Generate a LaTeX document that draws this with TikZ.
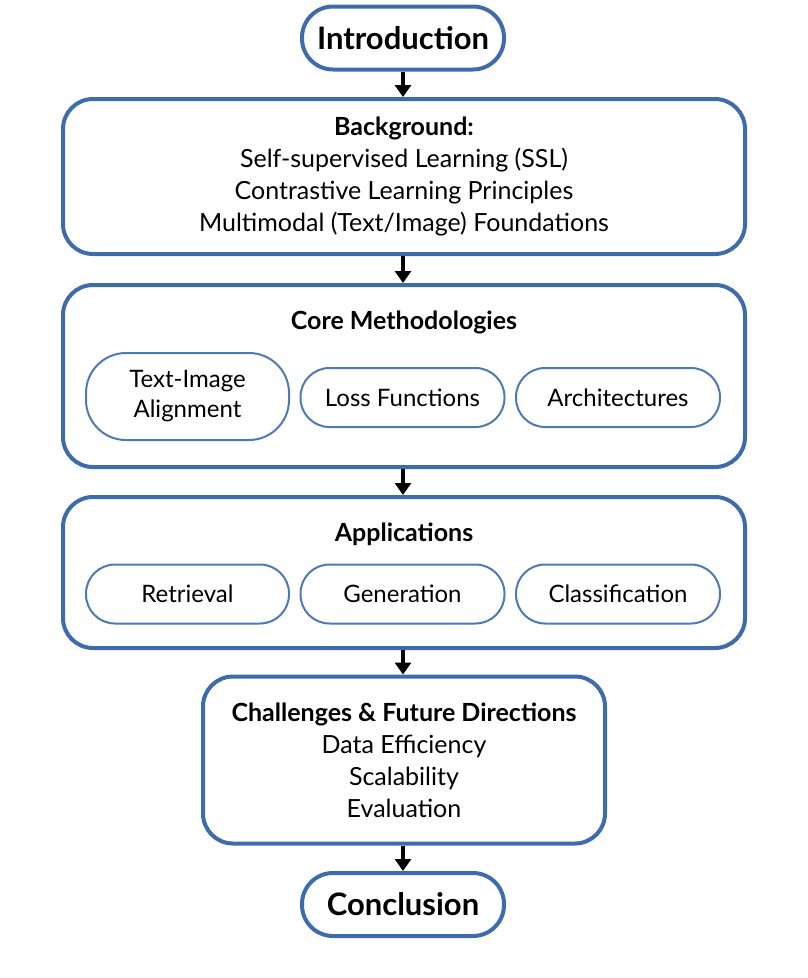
\documentclass[tikz,border=0pt]{standalone}
\usepackage{fontspec}
\setmainfont{Lato}
\usepackage{tikz}
\usetikzlibrary{arrows.meta,positioning}
\definecolor{ovblue}{RGB}{62,108,170}
\definecolor{ovlightblue}{RGB}{78,122,180}
\tikzset{
  pill/.style={draw=ovblue, line width=4pt, rounded corners=31pt, minimum width=202pt, minimum height=63pt, font=\fontsize{31}{32}\selectfont\bfseries},
  bigbox/.style={draw=ovblue, line width=4pt, rounded corners=30pt, minimum width=682pt, align=center, font=\fontsize{25}{32}\selectfont},
  subbox/.style={draw=ovlightblue, line width=2pt, rounded corners=29pt, minimum width=204pt, minimum height=59pt, align=center, font=\fontsize{24}{30}\selectfont},
  title/.style={font=\fontsize{25}{32}\selectfont\bfseries},
  arrow/.style={line width=3.2pt, -{Triangle[width=16pt,length=12pt]}, color=black}
}
\begin{document}
\begin{tikzpicture}[x=1pt, y=-1pt]
\useasboundingbox (0,0) rectangle (808,978);
% start and sections
\node[pill] (intro) at (403,38) {Introduction};
\node[bigbox, minimum height=155pt] (bg) at (404,176.5)
  {\textbf{\fontsize{25}{32}\selectfont Background:}\\Self-supervised Learning (SSL)\\Contrastive Learning Principles\\Multimodal (Text/Image) Foundations};

% core methodologies
\node[bigbox, minimum height=182pt] (core) at (404,376) {};
\node[title] (coretitle) at (404,322) {Core Methodologies};
\node[subbox, minimum width=203pt, minimum height=87pt, rounded corners=40pt] (align) at (187.5,396.5) {Text-Image\\Alignment};
\node[subbox] (loss) at (402.5,397.5) {Loss Functions};
\node[subbox] (arch) at (618,397.5) {Architectures};

% applications
\node[bigbox, minimum height=151pt] (app) at (404,572.5) {};
\node[title] (apptitle) at (404,534) {Applications};
\node[subbox, minimum width=203pt] (retr) at (187.5,594) {Retrieval};
\node[subbox] (gen) at (402.5,594) {Generation};
\node[subbox] (cls) at (618,594) {Classification};

% challenges and end
\node[bigbox, minimum width=402pt, minimum height=167pt] (chal) at (404,760)
  {\textbf{\fontsize{25}{32}\selectfont Challenges \& Future Directions}\\Data Efficiency\\Scalability\\Evaluation};
\node[pill] (concl) at (403,904.5) {Conclusion};

\draw[arrow] (intro.south) -- (intro.south |- bg.north);
\draw[arrow] (intro.south |- bg.south) -- (intro.south |- core.north);
\draw[arrow] (intro.south |- core.south) -- (intro.south |- app.north);
\draw[arrow] (intro.south |- app.south) -- (intro.south |- chal.north);
\draw[arrow] (intro.south |- chal.south) -- (concl.north);
\end{tikzpicture}
\end{document}
